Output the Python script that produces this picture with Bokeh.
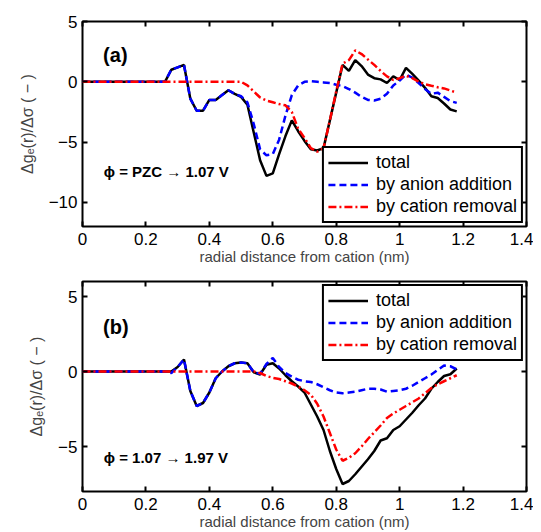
from bokeh.plotting import figure
from bokeh.layouts import column
from bokeh.models import (Legend, LegendItem, LinearAxis, FixedTicker,
                          CustomJSTickFormatter, Label, Range1d)
from bokeh.embed import file_html
from bokeh.resources import INLINE

# ---------------- data ----------------
r_nm = [0.00, 0.02, 0.04, 0.06, 0.08, 0.10, 0.12, 0.14, 0.16, 0.18,
        0.20, 0.22, 0.24, 0.26, 0.28, 0.30, 0.32, 0.34, 0.36, 0.38,
        0.40, 0.42, 0.44, 0.46, 0.48, 0.50, 0.52, 0.54, 0.56, 0.58,
        0.60, 0.62, 0.64, 0.66, 0.68, 0.70, 0.72, 0.74, 0.76, 0.78,
        0.80, 0.82, 0.84, 0.86, 0.88, 0.90, 0.92, 0.94, 0.96, 0.98,
        1.00, 1.02, 1.04, 1.06, 1.08, 1.10, 1.12, 1.14, 1.16, 1.18]

a_total = [0, 0, 0, 0, 0, 0, 0, 0, 0, 0, 0, 0, 0, 0,
           1.0, 1.2, 1.4, -1.4, -2.4, -2.4, -1.5, -1.5, -1.1, -0.7,
           -1.0, -1.25, -1.9, -4.2, -6.5, -7.8, -7.6, -6.0, -4.5, -3.2,
           -4.1, -4.9, -5.6, -5.7, -5.5, -3.2, -0.9, 1.4, 0.9, 1.8,
           1.3, 0.6, 0.3, 0.2, -0.1, 0.45, 0.15, 1.15, 0.65, 0.1,
           -0.5, -1.2, -1.35, -1.8, -2.3, -2.45]
a_anion = [0, 0, 0, 0, 0, 0, 0, 0, 0, 0, 0, 0, 0, 0,
           1.0, 1.2, 1.4, -1.4, -2.4, -2.4, -1.5, -1.5, -1.1, -0.7,
           -1.0, -1.2, -1.7, -3.5, -5.6, -6.1, -6.0, -4.8, -2.8, -1.1,
           -0.3, 0.0, 0.05, 0.0, -0.05, -0.1, -0.25, -0.35, -0.6, -0.9,
           -1.25, -1.5, -1.55, -1.4, -1.0, -0.3, 0.1, 0.6, 0.35, -0.1,
           -0.6, -1.0, -0.9, -1.25, -1.6, -1.75]
a_cation = [0, 0, 0, 0, 0, 0, 0, 0, 0, 0, 0, 0, 0, 0,
            0, 0, 0, 0, 0, 0, 0, 0, 0, 0, 0, 0,
            -0.3, -0.8, -1.3, -1.55, -1.7, -1.85, -1.95, -2.5, -3.9, -4.65,
            -5.5, -5.8, -5.5, -3.2, -0.8, 1.5, 1.8, 2.6, 2.3, 1.85,
            1.4, 0.9, 0.45, 0.15, 0.3, 0.5, 0.3, 0.0, -0.2, -0.33,
            -0.45, -0.55, -0.72, -0.9]

b_total = [0, 0, 0, 0, 0, 0, 0, 0, 0, 0, 0, 0, 0, 0,
           0.0, 0.3, 0.8, -1.3, -2.3, -2.1, -1.4, -0.45, 0.0, 0.35,
           0.55, 0.6, 0.55, -0.05, -0.2, 0.45, 0.55, 0.2, -0.25, -0.65,
           -1.0, -1.4, -2.2, -3.0, -3.9, -5.3, -6.5, -7.5, -7.3, -6.85,
           -6.35, -5.85, -5.3, -4.6, -4.45, -3.9, -3.65, -3.2, -2.75, -2.25,
           -1.8, -1.15, -0.7, -0.3, -0.18, 0.2]
b_anion = [0, 0, 0, 0, 0, 0, 0, 0, 0, 0, 0, 0, 0, 0,
           -0.1, 0.3, 0.8, -1.3, -2.3, -2.1, -1.4, -0.45, 0.0, 0.35,
           0.55, 0.6, 0.55, -0.05, -0.15, 0.5, 0.9, 0.3, -0.1, -0.35,
           -0.55, -0.65, -0.7, -0.85, -1.05, -1.25, -1.4, -1.45, -1.4, -1.35,
           -1.25, -1.15, -1.15, -1.2, -1.35, -1.3, -1.25, -1.15, -0.95, -0.7,
           -0.45, -0.2, 0.1, 0.4, 0.35, 0.15]
b_cation = [0, 0, 0, 0, 0, 0, 0, 0, 0, 0, 0, 0, 0, 0,
            0, 0, 0, 0, 0, 0, 0, 0, 0, 0, 0, 0, 0, 0,
            -0.1, -0.3, -0.42, -0.5, -0.65, -0.8, -1.0, -1.25, -1.55, -2.15,
            -3.0, -4.1, -5.2, -5.95, -5.75, -5.45, -5.0, -4.5, -4.05, -3.6,
            -3.1, -2.8, -2.55, -2.3, -2.05, -1.8, -1.45, -1.1, -0.85, -0.65,
            -0.45, -0.25]

x_ticks = [0, 0.2, 0.4, 0.6, 0.8, 1.0, 1.2, 1.4]
a_y_ticks = [-10, -5, 0, 5]
b_y_ticks = [-5, 0, 5]
series_names = ["total", "by anion addition", "by cation removal"]
panel_tags = ["(a)", "(b)"]
phi_texts = ["\u03d5 = PZC \u2192 1.07 V", "\u03d5 = 1.07 \u2192 1.97 V"]
x_title = "radial distance from cation (nm)"
y_title = "\u0394g\u2091(r)/\u0394\u03c3 ( \u2212 )"

FONT = "Liberation Sans"


def x_fmt():
    return CustomJSTickFormatter(code="return String(Math.round(tick*10)/10);")


def y_fmt():
    return CustomJSTickFormatter(
        code="return tick < 0 ? '\u2212' + String(Math.abs(tick)) : String(tick);")


def blank_fmt():
    return CustomJSTickFormatter(code="return '';")


def style_axis(ax, ticks, fmt, show_labels):
    ax.ticker = FixedTicker(ticks=ticks)
    ax.formatter = fmt
    ax.major_tick_in = 5
    ax.major_tick_out = 0
    ax.major_tick_line_width = 2
    ax.major_tick_line_color = "black"
    ax.minor_tick_line_color = None
    ax.axis_line_color = None
    if show_labels:
        ax.major_label_text_font = FONT
        ax.major_label_text_font_size = "17px"
        ax.major_label_text_color = "black"
    else:
        ax.major_label_standoff = 0


def make_panel(total, anion, cation, y_lo, y_hi, y_ticks, tag, tag_y,
               phi, phi_y, legend_loc, height, b_top):
    p = figure(width=533, height=height, x_range=Range1d(0, 1.4),
               y_range=Range1d(y_lo, y_hi), output_backend="svg",
               toolbar_location=None, min_border_left=82,
               min_border_right=7, min_border_top=b_top,
               min_border_bottom=10)
    p.grid.visible = False
    p.outline_line_color = "black"
    p.outline_line_width = 2
    p.outline_line_alpha = 1
    p.background_fill_color = "white"
    p.border_fill_color = "white"

    style_axis(p.xaxis[0], x_ticks, x_fmt(), True)
    style_axis(p.yaxis[0], y_ticks, y_fmt(), True)
    p.xaxis.major_label_standoff = 6
    p.yaxis.major_label_standoff = 5
    p.xaxis.axis_label = x_title
    p.xaxis.axis_label_text_font = FONT
    p.xaxis.axis_label_text_font_size = "15px"
    p.xaxis.axis_label_text_font_style = "normal"
    p.xaxis.axis_label_standoff = 0
    p.yaxis.axis_label = y_title
    p.yaxis.axis_label_text_font = FONT
    p.yaxis.axis_label_text_font_size = "16px"
    p.yaxis.axis_label_text_font_style = "normal"
    p.yaxis.axis_label_standoff = 10

    top_ax = LinearAxis()
    style_axis(top_ax, x_ticks, blank_fmt(), False)
    p.add_layout(top_ax, "above")
    right_ax = LinearAxis()
    style_axis(right_ax, y_ticks, blank_fmt(), False)
    p.add_layout(right_ax, "right")

    r1 = p.line(r_nm, total, line_color="black", line_width=2.5)
    r2 = p.line(r_nm, anion, line_color="#0000ff", line_width=2.5,
                line_dash="7 4")
    r3 = p.line(r_nm, cation, line_color="#ff0000", line_width=2.5,
                line_dash="8 3 2 3")

    legend = Legend(items=[LegendItem(label=series_names[0], renderers=[r1]),
                           LegendItem(label=series_names[1], renderers=[r2]),
                           LegendItem(label=series_names[2], renderers=[r3])],
                    location=legend_loc)
    legend.label_text_font = FONT
    legend.label_text_font_size = "18px"
    legend.label_text_color = "black"
    legend.border_line_color = "black"
    legend.border_line_width = 2
    legend.border_line_alpha = 1
    legend.background_fill_color = "white"
    legend.background_fill_alpha = 1
    legend.padding = 4
    legend.spacing = 1
    legend.margin = 3
    legend.glyph_width = 40
    legend.glyph_height = 21
    legend.label_height = 21
    legend.label_standoff = 8
    p.add_layout(legend, "center")

    p.add_layout(Label(x=0.065, y=tag_y, text=tag, text_font=FONT,
                       text_font_size="20px", text_font_style="bold",
                       text_baseline="middle", text_color="black"))
    p.add_layout(Label(x=0.067, y=phi_y, text=phi, text_font=FONT,
                       text_font_size="15px", text_font_style="bold",
                       text_baseline="middle", text_color="black"))
    return p


pa = make_panel(a_total, a_anion, a_cation, -12, 5, a_y_ticks,
                panel_tags[0], 2.2, phi_texts[0], -7.4, "bottom_right",
                267, 21)
pb = make_panel(b_total, b_anion, b_cation, -8, 6, b_y_ticks,
                panel_tags[1], 3.0, phi_texts[1], -5.7, "top_right",
                265, 14)

layout = column(pa, pb, spacing=0)
open("out.html", "w").write(file_html(layout, INLINE))
